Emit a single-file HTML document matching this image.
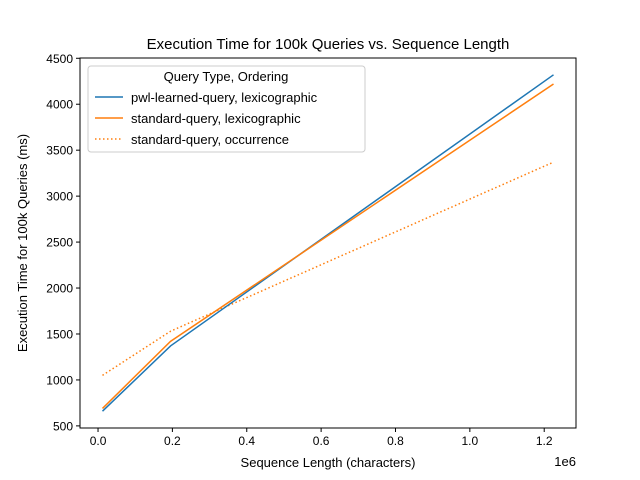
<!DOCTYPE html>
<html><head><meta charset="utf-8"><style>
body{margin:0;background:#fff;}
svg{display:block;font-family:"Liberation Sans","DejaVu Sans",sans-serif;}
</style></head><body>
<svg id="chart" width="640" height="480" viewBox="0 0 640 480">
<rect width="640" height="480" fill="#fff"/>
<text x="328" y="49" font-size="15" text-anchor="middle">Execution Time for 100k Queries vs. Sequence Length</text>
<g id="axes"></g>
<g id="series"></g>
<rect x="80" y="58" width="496" height="370" fill="none" stroke="#000" stroke-width="1"/>
<text x="328" y="467" font-size="13" text-anchor="middle">Sequence Length (characters)</text>
<text x="576" y="466" font-size="13" text-anchor="end">1e6</text>
<text transform="translate(27,243) rotate(-90)" font-size="13" text-anchor="middle">Execution Time for 100k Queries (ms)</text>
<g>
<rect x="88" y="66" width="277" height="86" rx="3" fill="#fff" fill-opacity="0.8" stroke="#ccc"/>
<text x="226" y="81" font-size="13" text-anchor="middle">Query Type, Ordering</text>
<line x1="95" y1="97" x2="123" y2="97" stroke="#1f77b4" stroke-width="1.5"/>
<text x="131" y="102" font-size="13">pwl-learned-query, lexicographic</text>
<line x1="95" y1="118" x2="123" y2="118" stroke="#ff7f0e" stroke-width="1.5"/>
<text x="131" y="123" font-size="13">standard-query, lexicographic</text>
<line x1="95" y1="139" x2="123" y2="139" stroke="#ff7f0e" stroke-width="1.5" stroke-dasharray="1.5,2.5"/>
<text x="131" y="144" font-size="13">standard-query, occurrence</text>
</g>
</svg>
<script>
const xValues = [0.012, 0.195, 1.225];
const pwlLex = [660, 1370, 4320];
const stdLex = [690, 1420, 4220];
const stdOcc = [1050, 1530, 3370];
const xTicks = [0.0, 0.2, 0.4, 0.6, 0.8, 1.0, 1.2];
const yTicks = [500, 1000, 1500, 2000, 2500, 3000, 3500, 4000, 4500];

const X0 = 80, X1 = 576, Y0 = 428, Y1 = 58;
const xmin = -0.0485, xmax = 1.2855, ymin = 477, ymax = 4503;
function xs(v){ return X0 + (v - xmin) / (xmax - xmin) * (X1 - X0); }
function ys(v){ return Y0 - (v - ymin) / (ymax - ymin) * (Y0 - Y1); }
const NS = "http://www.w3.org/2000/svg";
const axes = document.getElementById('axes');
const series = document.getElementById('series');

xTicks.forEach(t => {
  const px = xs(t);
  const l = document.createElementNS(NS, 'line');
  l.setAttribute('x1', px); l.setAttribute('x2', px);
  l.setAttribute('y1', Y0); l.setAttribute('y2', Y0 + 4);
  l.setAttribute('stroke', '#000');
  
  
  axes.appendChild(l);
  const tx = document.createElementNS(NS, 'text');
  tx.setAttribute('x', px); tx.setAttribute('y', Y0 + 17);
  tx.setAttribute('font-size', '12'); tx.setAttribute('text-anchor', 'middle');
  tx.textContent = t.toFixed(1);
  
  
  axes.appendChild(tx);
});
yTicks.forEach(t => {
  const py = ys(t);
  const l = document.createElementNS(NS, 'line');
  l.setAttribute('x1', X0 - 4); l.setAttribute('x2', X0);
  l.setAttribute('y1', py); l.setAttribute('y2', py);
  l.setAttribute('stroke', '#000');
  
  
  axes.appendChild(l);
  const tx = document.createElementNS(NS, 'text');
  tx.setAttribute('x', X0 - 7); tx.setAttribute('y', py + 4.5);
  tx.setAttribute('font-size', '12'); tx.setAttribute('text-anchor', 'end');
  tx.textContent = t;
  
  
  axes.appendChild(tx);
});
function drawLine(vals, color, dash, name){
  const p = document.createElementNS(NS, 'polyline');
  p.setAttribute('points', vals.map((v, i) => xs(xValues[i]) + ',' + ys(v)).join(' '));
  p.setAttribute('fill', 'none');
  p.setAttribute('stroke', color);
  p.setAttribute('stroke-width', '1.5');
  if (dash) p.setAttribute('stroke-dasharray', dash);
  
  
  series.appendChild(p);
}
drawLine(stdOcc, '#ff7f0e', '1.5,2.5', 'line-standard-occurrence');
drawLine(pwlLex, '#1f77b4', null, 'line-pwl-lexicographic');
drawLine(stdLex, '#ff7f0e', null, 'line-standard-lexicographic');
</script>
</body></html>
